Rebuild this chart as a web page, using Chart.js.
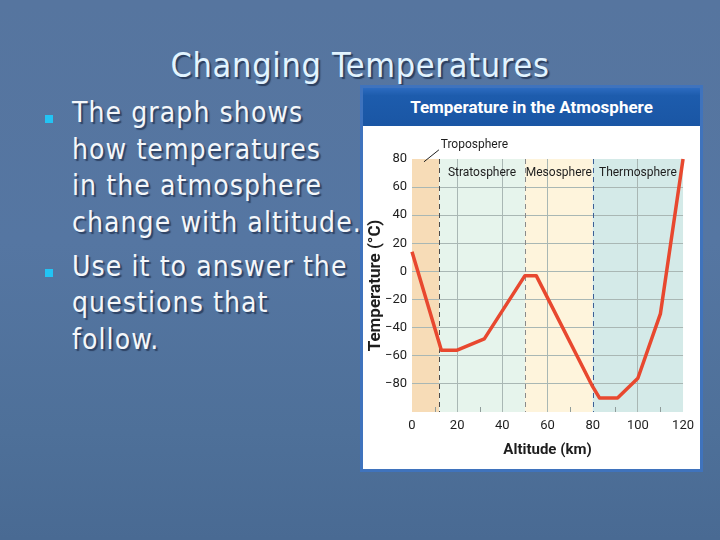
<!DOCTYPE html>
<html>
<head>
<meta charset="utf-8">
<script src="https://cdn.jsdelivr.net/npm/chart.js@4.4.1/dist/chart.umd.min.js"></script>
<style>
  html, body { margin: 0; padding: 0; }
  body {
    width: 720px; height: 540px; overflow: hidden; position: relative;
    background: linear-gradient(180deg, #56759f 0%, #5576a2 45%, #4e7099 80%, #496a93 100%);
    font-family: "DejaVu Sans Condensed", "DejaVu Sans", sans-serif;
  }
  .title {
    position: absolute; left: 0; top: 45px; width: 720px; text-align: center;
    font-size: 34px; line-height: 40px; color: #e2f4ff; letter-spacing: 0.7px;
    text-shadow: 2px 2px 1px rgba(30, 45, 75, 0.75);
  }
  .bullet {
    position: absolute; left: 72px; font-size: 28px; line-height: 36.7px; letter-spacing: 1.1px;
    color: #f4f7fa; text-shadow: 2px 2px 1px rgba(30, 45, 75, 0.7); white-space: nowrap;
  }
  .mark { position: absolute; left: 45px; width: 8px; height: 8px; background: #22c4f4; }
  #box {
    position: absolute; left: 360px; top: 85px; width: 337px; height: 381px;
    border: 3px solid #3f73bd; background: #fff;
  }
  #head {
    height: 38px; background: linear-gradient(180deg, #2c6bc0 0%, #1d5cad 20%, #1a56a4 100%);
    color: #fff; font: bold 17px Roboto, sans-serif; line-height: 38px; text-align: center;
  }
  #wrap { position: absolute; left: 0; top: 38px; width: 337px; height: 343px; }
</style>
</head>
<body>
<div class="title">Changing Temperatures</div>
<div class="mark" style="top:115px"></div>
<div class="bullet" style="top:95px">The graph shows<br>how temperatures<br>in the atmosphere<br>change with altitude.</div>
<div class="mark" style="top:269px"></div>
<div class="bullet" style="top:248.7px">Use it to answer the<br>questions that<br>follow.</div>

<div id="box">
  <div id="head">Temperature in the Atmosphere</div>
  <div id="wrap"><canvas id="chart" width="337" height="343"></canvas></div>
</div>

<script>
const altitudeKm   = [0, 13, 20, 32, 50, 55, 80, 83, 91, 100, 110, 120];
const temperatureC = [14, -56, -56, -48, -3, -3, -82, -90, -90, -76, -30, 80];

const layerNames  = ['Troposphere', 'Stratosphere', 'Mesosphere', 'Thermosphere'];
const layerStart  = [0, 12, 50, 80];
const layerEnd    = [12, 50, 80, 120];
const layerColors = ['#f7dcb7', '#e6f4ec', '#fef4dc', '#d4eae8'];
const layerLines  = ['#4a4a4a', '#8a8a8a', '#3c5f96'];

const xTicks = [0, 20, 40, 60, 80, 100, 120];
const yTicks = [-80, -60, -40, -20, 0, 20, 40, 60, 80];

const chartFont = 'Roboto';

const atmosphereLayers = {
  id: 'atmosphereLayers',
  beforeDraw(chart) {
    const {ctx, scales: {x, y}, chartArea: {top, bottom}} = chart;
    ctx.save();
    layerStart.forEach((s, i) => {
      ctx.fillStyle = layerColors[i];
      const x0 = x.getPixelForValue(s);
      ctx.fillRect(x0, top, x.getPixelForValue(layerEnd[i]) - x0, bottom - top);
    });
    ctx.restore();
  },
  beforeDatasetsDraw(chart) {
    const {ctx, scales: {x, y}, chartArea: {top, bottom}} = chart;
    ctx.save();
    // small ticks along the bottom
    ctx.strokeStyle = '#8f9c9a';
    ctx.lineWidth = 1;
    for (let k = 10; k < 120; k += 20) {
      if (k === 50) continue;
      const px = Math.round(x.getPixelForValue(k)) + 0.5;
      ctx.beginPath();
      ctx.moveTo(px, bottom);
      ctx.lineTo(px, bottom - 5);
      ctx.stroke();
    }
    // dashed layer borders
    ctx.setLineDash([5, 4]);
    layerStart.slice(1).forEach((s, i) => {
      const px = Math.round(x.getPixelForValue(s)) + 0.5;
      ctx.strokeStyle = layerLines[i];
      ctx.beginPath();
      ctx.moveTo(px, top);
      ctx.lineTo(px, bottom);
      ctx.stroke();
    });
    ctx.setLineDash([]);
    // layer names
    ctx.fillStyle = '#1e1e1e';
    ctx.font = '12px ' + chartFont;
    ctx.textAlign = 'center';
    ctx.textBaseline = 'middle';
    layerNames.forEach((name, i) => {
      if (i === 0) return;
      ctx.fillText(name, x.getPixelForValue((layerStart[i] + layerEnd[i]) / 2), y.getPixelForValue(70));
    });
    ctx.restore();
  },
  afterDraw(chart) {
    const {ctx, scales: {x, y}} = chart;
    ctx.save();
    ctx.strokeStyle = '#1e1e1e';
    ctx.lineWidth = 1;
    ctx.beginPath();
    ctx.moveTo(x.getPixelForValue(5.3), y.getPixelForValue(78));
    ctx.lineTo(x.getPixelForValue(11.9), y.getPixelForValue(86.5));
    ctx.stroke();
    ctx.fillStyle = '#1e1e1e';
    ctx.font = '12px ' + chartFont;
    ctx.textAlign = 'left';
    ctx.textBaseline = 'middle';
    ctx.fillText(layerNames[0], x.getPixelForValue(12.7), y.getPixelForValue(90));
    ctx.restore();
  }
};

new Chart(document.getElementById('chart'), {
  type: 'line',
  data: {
    datasets: [{
      data: altitudeKm.map((a, i) => ({x: a, y: temperatureC[i]})),
      borderColor: '#e8482f',
      borderWidth: 3.5,
      pointRadius: 0,
      tension: 0,
      borderJoinStyle: 'round',
      clip: false
    }]
  },
  options: {
    responsive: false,
    animation: false,
    layout: { padding: { top: 33, right: 15, left: 0, bottom: 0 } },
    scales: {
      x: {
        type: 'linear',
        min: 0, max: 120,
        afterFit(scale) { scale.height = 57; },
        afterBuildTicks(scale) { scale.ticks = xTicks.map(v => ({value: v})); },
        border: { display: false },
        grid: {
          color: c => (c.tick && [20, 40, 60, 100].includes(c.tick.value)) ? '#a9b7b4' : 'rgba(0,0,0,0)',
          drawTicks: false
        },
        ticks: { color: '#1e1e1e', padding: 6, font: { family: chartFont, size: 13 } },
        title: {
          display: true, text: 'Altitude (km)', color: '#1e1e1e', padding: 10,
          font: { family: chartFont, size: 15, weight: 'bold' }
        }
      },
      y: {
        min: -100, max: 80,
        afterFit(scale) { scale.width = 49; },
        afterBuildTicks(scale) { scale.ticks = yTicks.map(v => ({value: v})); },
        border: { display: false },
        grid: {
          color: c => (c.tick && c.tick.value < 80) ? '#a9b7b4' : 'rgba(0,0,0,0)',
          drawTicks: false
        },
        ticks: {
          color: '#1e1e1e', padding: 5, font: { family: chartFont, size: 13 },
          callback: v => v < 0 ? '\u2212' + Math.abs(v) : String(v)
        },
        title: {
          display: true, text: 'Temperature (°C)', color: '#1e1e1e', padding: 3,
          font: { family: chartFont, size: 17, weight: 'bold' }
        }
      }
    },
    plugins: { legend: { display: false }, tooltip: { enabled: false } }
  },
  plugins: [atmosphereLayers]
});
</script>
</body>
</html>
